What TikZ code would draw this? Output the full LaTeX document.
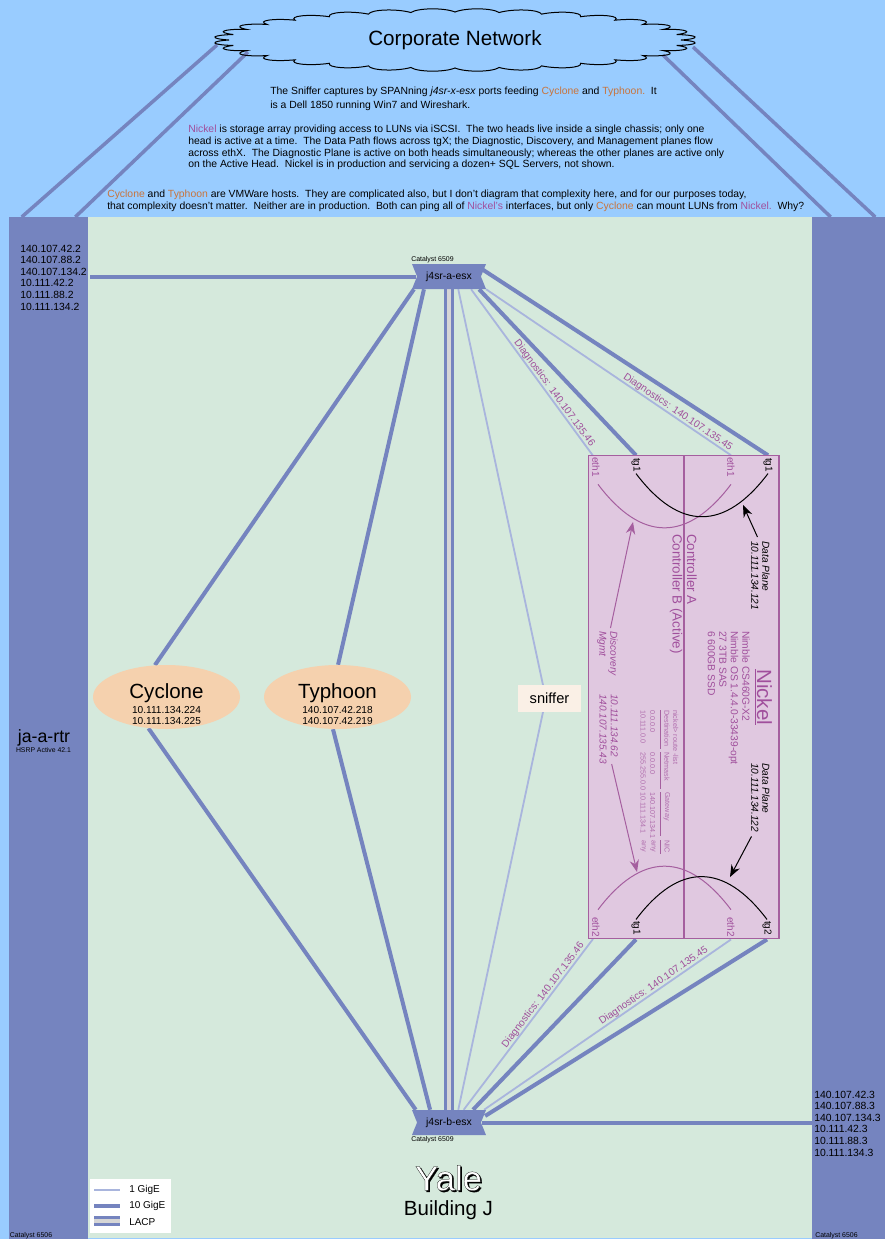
\documentclass[tikz,border=0pt]{standalone}
\usepackage{fontspec}
\setmainfont{Liberation Sans}
\newfontfamily\yalefont[FakeBold=0.6]{Liberation Sans}
\usetikzlibrary{arrows.meta,shapes.geometric,backgrounds}
\definecolor{skyblue}{HTML}{99CCFF}
\definecolor{campusgreen}{HTML}{D5E9DC}
\definecolor{linkblue}{HTML}{7584BF}
\definecolor{thinblue}{HTML}{A9B5DD}
\definecolor{lacpgrey}{HTML}{D6D6D6}
\definecolor{hostfill}{HTML}{F5D1AE}
\definecolor{snifffill}{HTML}{FAF0E6}
\definecolor{nickfill}{HTML}{E0C8E0}
\definecolor{nickline}{HTML}{A55F9F}
\definecolor{nicktext}{HTML}{A04F9C}
\definecolor{hosttext}{HTML}{C8743C}
\newcommand{\px}{0.75pt}
\newcommand{\hostname}[1]{\textcolor{hosttext}{#1}}
\newcommand{\nickname}[1]{\textcolor{nicktext}{#1}}
\newcommand{\fsize}[2]{\fontsize{#1}{#2}\selectfont}

\begin{document}
\begin{tikzpicture}[
  x=\px, y=-\px,
  >=Stealth,
  router/.style={fill=linkblue, inner sep=0pt, outer sep=0pt},
  switchbox/.style={
    minimum width=74*\px,
    minimum height=25*\px,
    inner sep=0pt,
    font=\fsize{7.8}{9},
    path picture={
      \fill[linkblue] (path picture bounding box.north west)
        .. controls ++(12pt,3pt) and ++(-12pt,3pt) .. (path picture bounding box.north)
        .. controls ++(12pt,3pt) and ++(-12pt,3pt) .. (path picture bounding box.north east)
        -- ([xshift=-3.8pt]path picture bounding box.east)
        -- (path picture bounding box.south east)
        -- (path picture bounding box.south west)
        -- ([xshift=3.8pt]path picture bounding box.west) -- cycle;
    }
  },
  host/.style={ellipse, fill=hostfill, minimum width=147*\px, minimum height=64*\px, inner sep=0pt},
  note/.style={anchor=north west, inner sep=0pt, align=left, font=\fsize{7.8}{8.7}},
  tiny/.style={anchor=west, inner sep=0pt, font=\fsize{5.2}{6}},
  vtext/.style={rotate=-90, anchor=west, inner sep=0pt},
  vblock/.style={rotate=-90, anchor=north west, inner sep=0pt, align=left},
  port/.style={rotate=-90, inner sep=1pt, font=\fsize{7.5}{9}},
  routetext/.style={vtext, text=nicktext!75!nickfill, font=\fsize{5.4}{6}},
  gige/.style={draw=thinblue, line width=1.8*\px},
  tengig/.style={draw=linkblue, line width=4*\px},
  cloudlink/.style={draw=linkblue, line width=3.5*\px},
  lacp/.style={draw=linkblue, line width=2.7*\px, double=lacpgrey, double distance=4.2*\px},
  diag/.style={sloped, above, inner sep=0pt, text=nicktext, font=\fsize{7.6}{9}},
  arr/.style={->, line width=1*\px},
  nickarc/.style={draw=nickline, line width=1*\px},
  dataarc/.style={draw=black, line width=1*\px},
]
\useasboundingbox (0,0) rectangle (885,1239);

\begin{scope}[on background layer]
  \fill[skyblue] (0,0) rectangle (885,1239);
  \node[fill=campusgreen, inner sep=0pt, outer sep=0pt, minimum width=724*\px, minimum height=1021*\px] (campus) at (450,727.5) {};
\end{scope}

% Corporate cloud.
\node[ellipse, minimum width=464*\px, minimum height=54*\px, inner sep=0pt, font=\fsize{15.5}{18}] (corp) at (455,40) {Corporate Network};
\draw[line width=1*\px] (455+226,40)
  \foreach \t in {0,11.25,...,348.75} {
    .. controls ({455+247*cos(\t+2.5)},{40+32.5*sin(\t+2.5)}) and ({455+247*cos(\t+8.75)},{40+32.5*sin(\t+8.75)})
    .. ({455+226*cos(\t+11.25)},{40+28*sin(\t+11.25)})
  };
\coordinate (corpA) at (217,45);
\coordinate (corpB) at (248,52);
\coordinate (corpC) at (663,55);
\coordinate (corpD) at (693,47);

% Notes.
\node[note, font=\fsize{7.8}{10}] (noteSniff) at (270,87) {The Sniffer captures by SPANning \textit{j4sr-x-esx} ports feeding \hostname{Cyclone} and \hostname{Typhoon.}\ \ It\\is a Dell 1850 running Win7 and Wireshark.};
\node[note] (noteNickel) at (188,125) {\nickname{Nickel} is storage array providing access to LUNs via iSCSI.\ \ The two heads live inside a single chassis; only one\\head is active at a time.\ \ The Data Path flows across tgX; the Diagnostic, Discovery, and Management planes flow\\across ethX.\ \ The Diagnostic Plane is active on both heads simultaneously; whereas the other planes are active only\\on the Active Head.\ \ Nickel is in production and servicing a dozen+ SQL Servers, not shown.};
\node[note, font=\fsize{7.8}{8.4}] (noteHosts) at (107,190) {\hostname{Cyclone} and \hostname{Typhoon} are VMWare hosts.\ \ They are complicated also, but I don't diagram that complexity here, and for our purposes today,\\that complexity doesn't matter.\ \ Neither are in production.\ \ Both can ping all of \nickname{Nickel's} interfaces, but only \hostname{Cyclone} can mount LUNs from \nickname{Nickel.}\ \ Why?};

% Routers.
\node[router, minimum width=79*\px, minimum height=1022*\px] (rtrA) at (48.5,728) {};
\node[router, minimum width=73*\px, minimum height=1022*\px] (rtrB) at (848.5,728) {};
\node[note] (rtrAips) at (20,244.5) {140.107.42.2\\140.107.88.2\\140.107.134.2\\10.111.42.2\\10.111.88.2\\10.111.134.2};
\node[note] (rtrBips) at (814,1090.5) {140.107.42.3\\140.107.88.3\\140.107.134.3\\10.111.42.3\\10.111.88.3\\10.111.134.3};
\node[inner sep=0pt, font=\fsize{13.3}{15}] (rtrAname) at (44,737.5) {ja-a-rtr};
\node[inner sep=0pt, font=\fsize{5.15}{7}] (rtrAhsrp) at (43.5,750) {HSRP Active 42.1};
\node[tiny] (rtrAcat) at (9.5,1235.5) {Catalyst 6506};
\node[tiny] (rtrBcat) at (815,1235.5) {Catalyst 6506};

% Switches.
\node[switchbox] (esxA) at (449,276.5) {j4sr-a-esx};
\node[switchbox] (esxB) at (449,1122.5) {j4sr-b-esx};
\node[tiny] (esxAcat) at (411,259.5) {Catalyst 6509};
\node[tiny] (esxBcat) at (411,1139.5) {Catalyst 6509};

% Hosts.
\node[host] (cyclone) at (166.5,697) {};
\node[host] (typhoon) at (337.5,697) {};
\node[inner sep=0pt, font=\fsize{15.4}{18}] (cycloneName) at (166.5,693) {Cyclone};
\node[inner sep=0pt, font=\fsize{15.4}{18}] (typhoonName) at (337.5,693) {Typhoon};
\node[inner sep=0pt, align=center, font=\fsize{7.6}{8.4}] (cycloneIps) at (166.5,715.5) {10.111.134.224\\10.111.134.225};
\node[inner sep=0pt, align=center, font=\fsize{7.6}{8.4}] (typhoonIps) at (337.5,715.5) {140.107.42.218\\140.107.42.219};
\node[fill=snifffill, minimum width=63*\px, minimum height=27*\px, inner sep=0pt, font=\fsize{11}{13}] (sniffer) at (549.5,698.5) {sniffer};
\coordinate (sniffTop) at (543,685);
\coordinate (sniffBot) at (543,712);

% Nickel.
\node[fill=nickfill, draw=nickline, line width=1.2*\px, minimum width=190.5*\px, minimum height=483*\px, inner sep=0pt] (nickel) at (683.75,697.35) {};
\draw[draw=nickline, line width=2*\px] (nickel.north) -- (nickel.south);
\node[port, text=nicktext] (ethAL) at (596,467) {eth1};
\node[port] (tgAL) at (636,465) {tg1};
\node[port, text=nicktext] (ethAR) at (731,467) {eth1};
\node[port] (tgAR) at (768,465) {tg1};
\node[port, text=nicktext] (ethBL) at (596,927) {eth2};
\node[port] (tgBL) at (636,928) {tg1};
\node[port, text=nicktext] (ethBR) at (731,927) {eth2};
\node[port] (tgBR) at (767,928) {tg2};
\coordinate (portAL) at (593,455.7);
\coordinate (portBL) at (593,939);

\draw[nickarc] ([shift={(2,6)}]ethAL.east) to[out=-53,in=-127,looseness=1.4] ([shift={(0,6)}]ethAR.east);
\draw[dataarc] (tgAL.east) to[out=-53,in=-127,looseness=1.4] (tgAR.east);
\draw[nickarc] ([shift={(2,-6)}]ethBL.west) to[out=53,in=127,looseness=1.4] ([shift={(0,-6)}]ethBR.west);
\draw[dataarc] (tgBL.west) to[out=53,in=127,looseness=1.4] (tgBR.west);

\node[vtext, text=nicktext, font=\fsize{15.4}{18}] (nickelName) at (763,669) {\underline{Nickel}};
\node[vblock, text=nicktext, font=\fsize{7.7}{8.6}] (nickelSpec) at (750,631) {Nimble CS460G-X2\\Nimble OS 1.4.4.0-33439-opt\\27 3TB SAS\\6 600GB SSD};
\node[vtext, text=nicktext, font=\fsize{10}{12}] (ctrlA) at (692,534) {Controller A};
\node[vtext, text=nicktext, font=\fsize{10}{12}] (ctrlB) at (676,534) {Controller B (Active)};
\node[vblock, font=\itshape\fsize{7.6}{8.3}] (dataA) at (770,541) {Data Plane\\10.111.134.121};
\node[vblock, font=\itshape\fsize{7.6}{8.3}] (dataB) at (770,763) {Data Plane\\10.111.134.122};
\node[vblock, text=nicktext, font=\itshape\fsize{7.6}{8.3}] (mgmtName) at (618,631) {Discovery\\Mgmt};
\node[vblock, text=nicktext, font=\itshape\fsize{7.5}{8.3}] (mgmtIps) at (618,694) {10.111.134.62\\140.107.135.43};

\draw[arr, -{Stealth[length=9pt,width=7pt]}] (dataA.west) ++(-3,-4) -- (743,505);
\draw[arr, -{Stealth[length=9pt,width=7pt]}] (dataB.east) ++(-9,4) -- (730,877);
\draw[arr, draw=nickline, -{Stealth[length=9pt,width=7pt]}] (mgmtName.west) ++(3,-3) -- (633,522);
\draw[arr, draw=nickline, -{Stealth[length=9pt,width=7pt]}] (mgmtIps.east) ++(3,0) -- (637,872);

% Route table.
\node[routetext] (routeCmd) at (675.7,710) {nickel> route -list};
\foreach \ty/\colname/\rowone/\rowtwo/\tlen in {
  710/Destination/0.0.0.0/10.111.0.0/39,
  752/Netmask/0.0.0.0/255.255.0.0/37,
  792/Gateway/140.107.134.1/10.111.134.1/44,
  840/NIC/any/any/14} {
  \node[routetext] (col\ty) at (667,\ty) {\colname};
  \node[routetext] (one\ty) at (652.7,\ty) {\rowone};
  \node[routetext] (two\ty) at (643,\ty) {\rowtwo};
  \draw[draw=nickline, line width=0.8*\px] (660,\ty) -- ++(0,\tlen);
}

% Links.
\begin{scope}[on background layer]
  \draw[cloudlink] (rtrA.93.1) -- (corpA);
  \draw[cloudlink] (rtrA.87.8) -- (corpB);
  \draw[cloudlink] (rtrB.92.1) -- (corpC);
  \draw[cloudlink] (rtrB.87.7) -- (corpD);

  \draw[tengig, shorten >=-3pt] ([xshift=1.5pt]esxA.west -| rtrA.east) -- (esxA.west);
  \draw[tengig, shorten <=-3pt] (esxB.east) -- (esxB.east -| rtrB.west);

  \draw[lacp] (esxA.south) -- (esxB.north);
  \draw[tengig] (esxA.200.7) -- (cyclone.110);
  \draw[tengig] (esxA.207.5) -- (typhoon.89);
  \draw[tengig] (cyclone.-120) -- (esxB.159.8);
  \draw[tengig] (typhoon.-98) -- (esxB.146.7);
  \draw[gige] (esxA.-54.2) -- (sniffTop);
  \draw[gige] (sniffBot) -- (esxB.54.2);

  \draw[gige] (esxA.-30.8) -- node[diag, pos=.645] (diagAL) {Diagnostics: 140.107.135.46} (portAL);
  \draw[tengig] (esxA.-23.3) -- (tgAL |- nickel.north);
  \draw[gige] (esxA.-19) -- node[diag, pos=.77] (diagAR) {Diagnostics: 140.107.135.45} (ethAR |- nickel.north);
  \draw[tengig, shorten <=-3pt] (esxA.7) -- (tgAR |- nickel.north);

  \draw[gige] (esxB.41.8) -- node[diag, pos=.65] (diagBL) {Diagnostics: 140.107.135.46} (portBL);
  \draw[tengig] (esxB.28.5) -- (tgBL |- nickel.south);
  \draw[gige] (esxB.20.7) -- node[diag, pos=.70] (diagBR) {Diagnostics: 140.107.135.45} (ethBR |- nickel.south);
  \draw[tengig, shorten <=-1pt] (esxB.11.5) -- (tgBR |- nickel.south);
\end{scope}

% Site name.
\node[inner sep=0pt, font=\yalefont\fsize{26}{30}] (yaleShadow) at (450,1179.5) {Yale};
\node[inner sep=0pt, font=\yalefont\fsize{26}{30}] (yale) at (448.5,1178) {\color{white}\special{pdf:code 0 0 0 RG}Yale};
\node[inner sep=0pt, font=\fsize{15.4}{18}] (building) at (448.5,1210) {Building J};

% Legend.
\node[fill=white, minimum width=81*\px, minimum height=54*\px, inner sep=0pt] (legend) at (130.5,1206) {};
\node[inner sep=0pt, anchor=west, font=\fsize{7.5}{9}] (lgOne) at (129,1190) {1 GigE};
\node[inner sep=0pt, anchor=west, font=\fsize{7.5}{9}] (lgTen) at (129,1205.5) {10 GigE};
\node[inner sep=0pt, anchor=west, font=\fsize{7.5}{9}] (lgLacp) at (129,1222) {LACP};
\draw[gige] (lgOne.west) ++(-35,0) -- ++(26,0);
\draw[tengig] (lgTen.west) ++(-35,0) -- ++(26,0);
\draw[lacp] (lgLacp.west) ++(-35,-1) -- ++(26,0);

\end{tikzpicture}
\end{document}
